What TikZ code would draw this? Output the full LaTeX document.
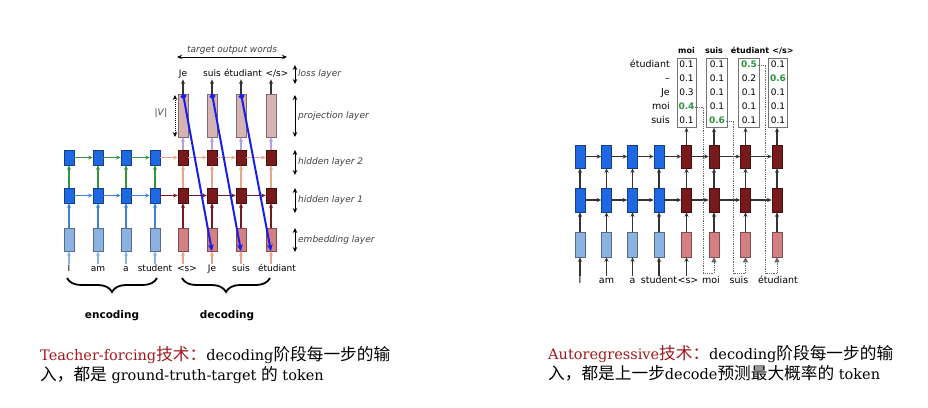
\documentclass[tikz,border=0pt]{standalone}
\usepackage{fontspec}
\setmainfont{DejaVu Serif}
\newfontfamily\diagfont{DejaVu Sans}
\newfontfamily\cjk[Scale=1.15]{Noto Sans CJK SC}
\usetikzlibrary{arrows.meta,positioning,fit,decorations.pathreplacing,calc}
\definecolor{encblue}{RGB}{30,105,225}
\definecolor{enclight}{RGB}{140,178,225}
\definecolor{decred}{RGB}{120,25,28}
\definecolor{decpink}{RGB}{212,128,130}
\definecolor{projpink}{RGB}{215,180,180}
\definecolor{arrgreen}{RGB}{50,150,60}
\definecolor{arrblue}{RGB}{60,130,215}
\definecolor{arrsalmon}{RGB}{232,165,140}
\definecolor{arrlilac}{RGB}{180,160,220}
\definecolor{forceblue}{RGB}{25,30,235}
\definecolor{probgreen}{RGB}{40,150,60}
\definecolor{capred}{RGB}{160,25,30}
\newcommand{\zh}[1]{{\cjk #1}}
\newcommand{\eostok}{</s>}

\begin{document}
\begin{tikzpicture}[x=1pt,y=-1pt,font=\diagfont\fontsize{9}{10}\selectfont,
  rnn/.style={draw=#1!60!black,fill=#1,minimum width=10pt,inner sep=0pt,line width=0.6pt},
  word/.style={inner sep=1pt,text height=6.5pt,text depth=1.8pt},
  rword/.style={word,font=\diagfont\fontsize{9.5}{11}\selectfont},
  arr/.style={-{Stealth[length=4.5pt,width=4pt]},line width=1.1pt},
  rarr/.style={arr,black!80},
  dimarr/.style={{Stealth[length=5pt,width=4.5pt]}-{Stealth[length=5pt,width=4.5pt]},line width=1pt},
  layerlab/.style={anchor=west,inner sep=1pt,font=\diagfont\itshape\fontsize{9}{10}\selectfont,text=black!75},
  force/.style={{Circle[length=5.5pt]}-{Stealth[length=7pt,width=6pt]},forceblue,line width=2pt},
  curly/.style={decorate,decoration={brace,mirror,amplitude=14pt},line width=1.8pt},
  part/.style={font=\diagfont\bfseries\fontsize{10.5}{12}\selectfont},
  val/.style={rword,inner sep=0.5pt,font=\diagfont\fontsize{9}{10}\selectfont},
  plain/.style={},
  hit/.style={text=probgreen,font=\diagfont\bfseries\fontsize{9}{10}\selectfont},
  tbox/.style={draw=black!55,line width=0.7pt,inner sep=1.5pt},
  feed/.style={densely dotted,black!60,line width=0.8pt,-{Triangle[length=5pt,width=5pt]}},
  captext/.style={anchor=base west,inner sep=0pt,font=\rmfamily\fontsize{14.5}{17}\selectfont}]
\useasboundingbox (0,0) rectangle (928,407);

% ---- teacher forcing: encoder
\foreach \i/\x/\w in {1/69/I,2/98/am,3/126/a,4/155/student}{
  \node[rnn=enclight,minimum height=23pt] (lee\i) at (\x,239.5) {};
  \node[rnn=encblue,minimum height=15pt] (le1\i) at (\x,195.5) {};
  \node[rnn=encblue,minimum height=15pt] (le2\i) at (\x,157.5) {};
  \node[word] (lew\i) at (\x,269) {\w};
  \draw[arr,enclight] (lew\i) -- (lee\i);
  \draw[arr,arrblue] (lee\i) -- (le1\i);
  \draw[arr,arrgreen] (le1\i) -- (le2\i);
}
\foreach \i/\j in {1/2,2/3,3/4}{
  \draw[arr,arrblue] (le1\i) -- (le1\j);
  \draw[arr,arrgreen] (le2\i) -- (le2\j);
}

% ---- teacher forcing: decoder
\foreach \i/\x/\wx/\w/\ox/\o in {1/183/187/<s>/183/Je,2/212/212/Je/212/suis,3/241/241/suis/243/étudiant,4/271/277/étudiant/277/\eostok}{
  \node[rnn=decpink,minimum height=23pt] (lde\i) at (\x,239.5) {};
  \node[rnn=decred,minimum height=15pt] (ld1\i) at (\x,195.5) {};
  \node[rnn=decred,minimum height=15pt] (ld2\i) at (\x,157.5) {};
  \node[rnn=projpink,minimum height=43pt] (lp\i) at (\x,115.5) {};
  \node[word] (ldw\i) at (\wx,269) {\w};
  \node[word] (lo\i) at (\ox,74) {\o};
  \draw[arr,arrsalmon] (lde\i |- ldw\i.north) -- (lde\i);
  \draw[arr,decred] (lde\i) -- (ld1\i);
  \draw[arr,arrsalmon] (ld1\i) -- (ld2\i);
  \draw[arr,arrlilac] (ld2\i) -- (lp\i);
  \draw[arr,black!80] (lp\i) -- (lp\i |- lo\i.south);
}
\draw[arr,decred] (le14) -- (ld11);
\draw[arr,arrsalmon] (le24) -- (ld21);
\foreach \i/\j in {1/2,2/3,3/4}{
  \draw[arr,decred] (ld1\i) -- (ld1\j);
  \draw[arr,arrsalmon] (ld2\i) -- (ld2\j);
}

% layer names
\foreach \a/\b/\t [count=\k] in {65/84/loss layer,95/137/projection layer,150/175/hidden layer 2,188/213/hidden layer 1,228/252/embedding layer}{
  \coordinate (lt\k) at (295,\a);
  \coordinate (lb\k) at (295,\b);
  \draw[dimarr] (lt\k) -- (lb\k);
  \node[layerlab] (ll\k) at (297,{(\a+\b)/2}) {\t};
}
\coordinate (tgl) at (177,57);
\coordinate (tgr) at (287,57);
\draw[dimarr] (tgl) -- (tgr) node[midway,above=1pt,layerlab,anchor=south] (tglab) {target output words};
\coordinate (vt) at (175,95);
\coordinate (vb) at (175,137);
\draw[dimarr,densely dotted] (vt) -- (vb);
\node[word,text=black!75] (vlab) at (161,113) {|\textit{V}|};

% the targets fed back in
\foreach \i/\j in {1/2,2/3,3/4}
  \draw[force] (lp\i.north) -- (lde\j.south);

\draw[curly] (67,278) -- (157,278);
\draw[curly] (182,278) -- (270,278);
\node[part] (encl) at (112,316) {encoding};
\node[part] (decl) at (227,316) {decoding};

% ---- autoregressive: encoder
\foreach \i/\x/\w in {1/580/I,2/606.5/am,3/632.5/a,4/659/student}{
  \node[rnn=enclight,minimum height=25pt] (ree\i) at (\x,244.5) {};
  \node[rnn=encblue,minimum height=24pt] (re1\i) at (\x,200) {};
  \node[rnn=encblue,minimum height=23pt] (re2\i) at (\x,156.5) {};
  \node[rword] (rew\i) at (\x,281) {\w};
  \draw[rarr] (rew\i) -- (ree\i);
  \draw[rarr] (ree\i) -- (re1\i);
  \draw[rarr] (re1\i) -- (re2\i);
}

% ---- autoregressive: decoder
\foreach \i/\x/\wx/\w in {1/686.5/688/<s>,2/714/711/moi,3/745.5/739/suis,4/777/778/étudiant}{
  \node[rnn=decpink,minimum height=25pt] (rde\i) at (\x,244.5) {};
  \node[rnn=decred,minimum height=24pt] (rd1\i) at (\x,200) {};
  \node[rnn=decred,minimum height=23pt] (rd2\i) at (\x,156.5) {};
  \node[rword] (rdw\i) at (\wx,281) {\w};
  \draw[rarr] (rde\i) -- (rd1\i);
  \draw[rarr] (rd1\i) -- (rd2\i);
}
\draw[rarr] (rde1 |- rdw1.north) -- (rde1);
\draw[rarr] (re14) -- (rd11);
\draw[rarr] (re24) -- (rd21);
\foreach \i/\j in {1/2,2/3,3/4}{
  \draw[rarr] (re1\i) -- (re1\j);
  \draw[rarr] (re2\i) -- (re2\j);
  \draw[rarr] (rd1\i) -- (rd1\j);
  \draw[rarr] (rd2\i) -- (rd2\j);
}

% output probabilities
\foreach \w [count=\r] in {étudiant,–,Je,moi,suis}
  \node[rword,anchor=east] (rl\r) at (671,{51+14*\r}) {\w};
\foreach \c/\x/\hx/\h/\vals in {1/686.5/686.5/moi/{0.1/plain,0.1/plain,0.3/plain,0.4/hit,0.1/plain},
    2/717/714/suis/{0.1/plain,0.1/plain,0.1/plain,0.1/plain,0.6/hit},
    3/749/750/étudiant/{0.5/hit,0.2/plain,0.1/plain,0.1/plain,0.1/plain},
    4/778/783/\eostok/{0.1/plain,0.6/hit,0.1/plain,0.1/plain,0.1/plain}}{
  \foreach \v/\s [count=\r] in \vals
    \node[val,\s] (t\c-\r) at (\x,{51+14*\r}) {\v};
  \node[tbox,fit=(t\c-1)(t\c-5)] (tb\c) {};
  \node[word,font=\diagfont\bfseries\fontsize{8}{9}\selectfont] (th\c) at (\hx,51) {\h};
  \draw[rarr] (rd2\c) -- (rd2\c |- tb\c.south);
}

% best guess fed to the next step
\draw[feed] (t1-4.east) -- ++(8,0) |- ($(rde2.south)+(0,16)$) -- (rde2.south);
\draw[feed] (t2-5.east) -- ++(8,0) |- ($(rde3.south)+(0,16)$) -- (rde3.south);
\draw[feed] (t3-1.east) -- ++(8,0) |- ($(rde4.south)+(0,16)$) -- (rde4.south);

% captions
\node[captext] (capl1) at (40,360) {\textcolor{capred}{Teacher-forcing\zh{技术：}}decoding\zh{阶段每一步的输}};
\node[captext] (capl2) at (40,380) {\zh{入，都是} ground-truth-target \zh{的} token};
\node[captext] (capr1) at (548,359) {\textcolor{capred}{Autoregressive\zh{技术：}}decoding\zh{阶段每一步的输}};
\node[captext] (capr2) at (548,379) {\zh{入，都是上一步}decode\zh{预测最大概率的} token};
\end{tikzpicture}
\end{document}
